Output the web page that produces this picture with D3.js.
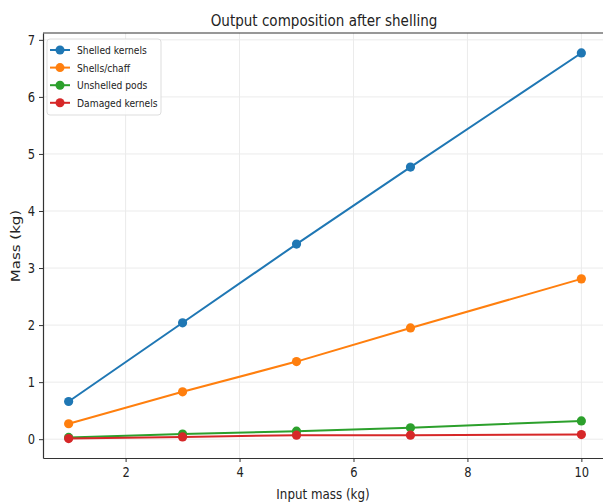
<!DOCTYPE html>
<html>
<head>
<meta charset="utf-8">
<script src="https://cdn.jsdelivr.net/npm/d3@7"></script>
<style>
  body { margin: 0; background: #fff; }
  svg text { font-family: "DejaVu Sans", sans-serif; fill: #222; }
</style>
</head>
<body>
<svg id="chart" width="603" height="504"></svg>
<script>
  const inputMass = [1, 3, 5, 7, 10];
  const shelledKernels = [0.66, 2.04, 3.42, 4.77, 6.77];
  const shellsChaff = [0.27, 0.83, 1.36, 1.95, 2.81];
  const unshelledPods = [0.03, 0.09, 0.14, 0.20, 0.32];
  const damagedKernels = [0.01, 0.04, 0.07, 0.07, 0.08];
  const xTicks = [2, 4, 6, 8, 10];
  const yTicks = [0, 1, 2, 3, 4, 5, 6, 7];

  const series = [
    {name: 'Shelled kernels', values: shelledKernels, color: '#1f77b4'},
    {name: 'Shells/chaff', values: shellsChaff, color: '#ff7f0e'},
    {name: 'Unshelled pods', values: unshelledPods, color: '#2ca02c'},
    {name: 'Damaged kernels', values: damagedKernels, color: '#d62728'}
  ];

  // the picture looks squeezed sideways, so text gets a horizontal squeeze
  const SX = 0.82;

  const MARGINS = {top: 33, left: 43, bottom: 46};
  const WIDTH = 607 - MARGINS.left;
  const HEIGHT = 504 - MARGINS.top - MARGINS.bottom;

  const x = d3.scaleLinear().domain([0.55, 10.45]).range([0, WIDTH]);
  const y = d3.scaleLinear().domain([-0.33, 7.12]).range([HEIGHT, 0]);

  const svg = d3.select('#chart');
  const chart = svg.append('g')
    .attr('transform', `translate(${MARGINS.left}, ${MARGINS.top})`);

  // grid
  chart.append('g')
    .selectAll('line')
    .data(xTicks)
    .enter().append('line')
    .attr('x1', d => x(d)).attr('x2', d => x(d))
    .attr('y1', 0).attr('y2', HEIGHT)
    .attr('stroke', '#ebebeb');
  chart.append('g')
    .selectAll('line')
    .data(yTicks)
    .enter().append('line')
    .attr('x1', 0).attr('x2', WIDTH)
    .attr('y1', d => y(d)).attr('y2', d => y(d))
    .attr('stroke', '#ebebeb');

  const xAxis = chart.append('g')
    .attr('transform', `translate(0, ${HEIGHT})`)
    .call(d3.axisBottom(x).tickValues(xTicks).tickSize(4).tickPadding(5).tickSizeOuter(0));
  const yAxis = chart.append('g')
    .call(d3.axisLeft(y).tickValues(yTicks).tickSize(4).tickPadding(4).tickSizeOuter(0));
  [xAxis, yAxis].forEach(a => {
    a.select('.domain').attr('stroke', '#333').attr('stroke-width', 1.2);
    a.selectAll('.tick line').attr('stroke', '#333');
    a.selectAll('.tick text').attr('font-size', 14).attr('fill', '#222')
      .attr('font-family', '"DejaVu Sans", sans-serif');
  });
  xAxis.selectAll('.tick text').attr('transform', `scale(${SX}, 1)`);
  yAxis.selectAll('.tick text')
    .attr('x', -8 / SX)
    .attr('transform', `scale(${SX}, 1)`);

  // top spine
  chart.append('line')
    .attr('x1', 0).attr('x2', WIDTH).attr('y1', 0).attr('y2', 0)
    .attr('stroke', '#333').attr('stroke-width', 1.2);

  const line = d3.line()
    .x((d, i) => x(inputMass[i]))
    .y(d => y(d));

  series.forEach(s => {
    chart.append('path')
      .datum(s.values)
      .attr('d', line)
      .attr('fill', 'none')
      .attr('stroke', s.color)
      .attr('stroke-width', 2);
    chart.selectAll('.dot-' + s.name.replace(/\W/g, ''))
      .data(s.values)
      .enter().append('circle')
      .attr('cx', (d, i) => x(inputMass[i]))
      .attr('cy', d => y(d))
      .attr('r', 4.6)
      .attr('fill', s.color);
  });

  // legend
  const legend = chart.append('g').attr('transform', 'translate(4, 6)');
  legend.append('rect')
    .attr('width', 114).attr('height', 76).attr('rx', 3)
    .attr('fill', '#fff').attr('fill-opacity', 0.85)
    .attr('stroke', '#ddd');
  series.forEach((s, i) => {
    const g = legend.append('g').attr('transform', `translate(3, ${11 + i * 17.6})`);
    g.append('line').attr('x1', 0).attr('x2', 20).attr('stroke', s.color).attr('stroke-width', 2);
    g.append('circle').attr('cx', 10).attr('r', 4.5).attr('fill', s.color);
    g.append('text')
      .attr('transform', `translate(27, 0) scale(${SX}, 1)`)
      .attr('dy', '0.35em').attr('font-size', 11.2).text(s.name);
  });

  svg.append('text')
    .attr('transform', `translate(324, 26) scale(${SX}, 1)`)
    .attr('text-anchor', 'middle')
    .attr('font-size', 16.5)
    .text('Output composition after shelling');

  svg.append('text')
    .attr('transform', `translate(323, 499) scale(${SX}, 1)`)
    .attr('text-anchor', 'middle')
    .attr('font-size', 14.5)
    .text('Input mass (kg)');

  svg.append('text')
    .attr('transform', `translate(20, 246) scale(${SX}, 1) rotate(-90)`)
    .attr('text-anchor', 'middle')
    .attr('font-size', 15)
    .text('Mass (kg)');
</script>
</body>
</html>
